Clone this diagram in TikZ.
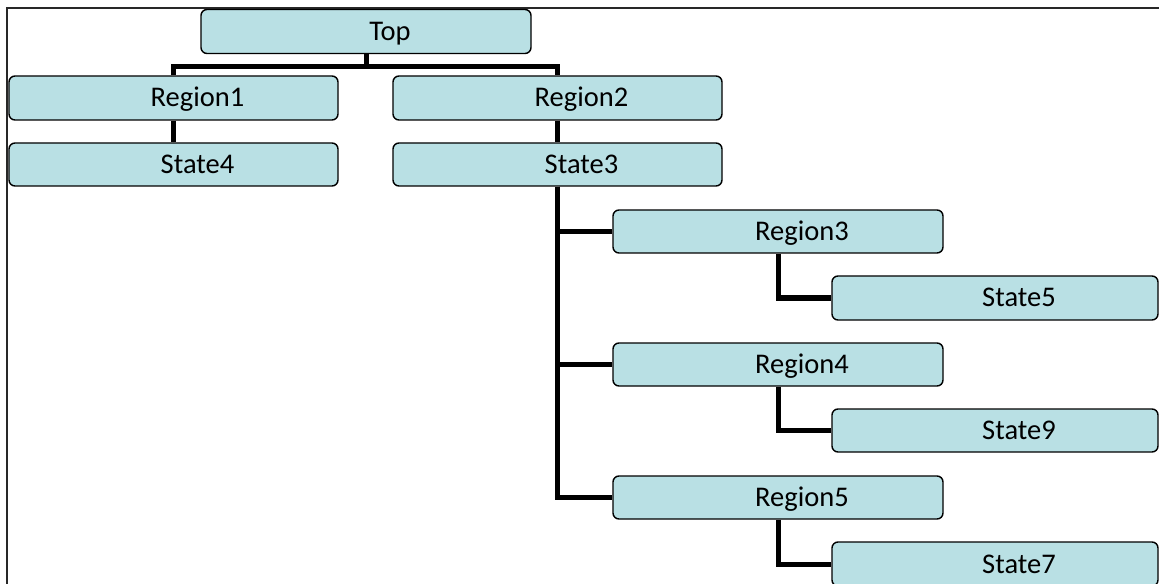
\documentclass[tikz,border=0pt]{standalone}
\usepackage{fontspec}
\setmainfont{Carlito}
\definecolor{boxfill}{RGB}{185,224,228}
\definecolor{framegray}{RGB}{40,40,40}
\begin{document}
\begin{tikzpicture}[x=1bp,y=-1bp,
  box/.style={draw=black, line width=1.4bp, fill=boxfill, rounded corners=6bp,
    minimum width=330bp, minimum height=44bp, inner sep=0pt,
    text height=18bp, text depth=0pt,
    font=\fontsize{28.5bp}{34bp}\selectfont},
  narrow/.style={minimum width=326bp},
  conn/.style={draw=black, line width=5bp}]
\useasboundingbox (0,0) rectangle (1159,584);
% outer frame (top and left edges)
\draw[framegray, line width=1.5bp] (7,590) -- (7,8) -- (1165,8);

% nodes
\node[box] (top) at (366,31.5) {\hspace*{48bp}Top};
\node[box, minimum width=329bp] (r1) at (173.5,98) {\hspace*{48bp}Region1};
\node[box, minimum width=329bp] (r2) at (557.5,98) {\hspace*{48bp}Region2};
\node[box, minimum width=329bp, minimum height=43bp] (s4) at (173.5,164.5) {\hspace*{48bp}State4};
\node[box, minimum width=329bp, minimum height=43bp] (s3) at (557.5,164.5) {\hspace*{48bp}State3};
\node[box, minimum height=43bp] (r3) at (778,231.5) {\hspace*{48bp}Region3};
\node[box, narrow] (s5) at (995,298) {\hspace*{48bp}State5};
\node[box, minimum height=43bp] (r4) at (778,364.5) {\hspace*{48bp}Region4};
\node[box, narrow, minimum height=43bp] (s9) at (995,430.5) {\hspace*{48bp}State9};
\node[box, minimum height=43bp] (r5) at (778,497.5) {\hspace*{48bp}Region5};
\node[box, narrow, minimum height=44bp] (s7) at (995,564) {\hspace*{48bp}State7};

% connectors
\draw[conn] (top.south) -- ++(0,12) coordinate (split);
\draw[conn] (r1.north) |- (split) -| (r2.north);
\draw[conn] (r1.south) -- (s4.north);
\draw[conn] (r2.south) -- (s3.north);
\draw[conn] (s3.south) |- (r3.west);
\draw[conn] (s3.south) |- (r4.west);
\draw[conn] (s3.south) |- (r5.west);
\draw[conn] (r3.south) |- (s5.west);
\draw[conn] (r4.south) |- (s9.west);
\draw[conn] (r5.south) |- (s7.west);
\end{tikzpicture}
\end{document}
